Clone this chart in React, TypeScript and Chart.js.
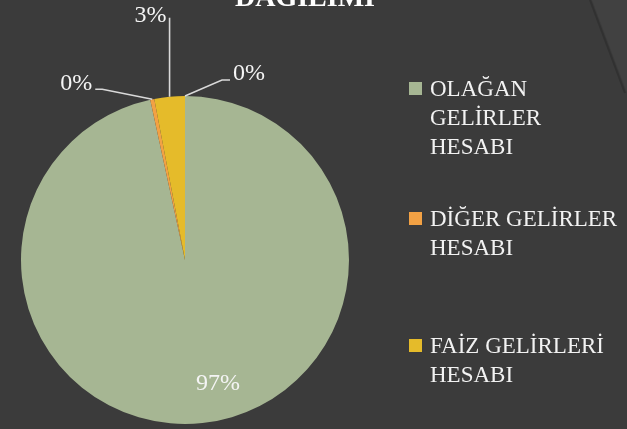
import { useEffect, useRef } from "react";
import { Chart, registerables } from "chart.js";

Chart.register(...registerables);

const categories = ["OLAĞAN GELİRLER HESABI", "DİĞER GELİRLER HESABI", "FAİZ GELİRLERİ HESABI", ""];
const legendLines = [["OLAĞAN", "GELİRLER", "HESABI"], ["DİĞER GELİRLER", "HESABI"], ["FAİZ GELİRLERİ", "HESABI"]];
const values = [96.6, 0.4, 3.0, 0];
const colors = ["#a6b693", "#f2a144", "#e5bb2a", "#8e8e8e"];
const titleText = "DAĞILIMI";

const FONT = "'Liberation Serif', 'Times New Roman', serif";

const bgPlugin = {
  id: "bgPlugin",
  beforeDraw(chart: any) {
    const { ctx, width } = chart;
    ctx.save();
    ctx.fillStyle = "#3b3b3b";
    ctx.fillRect(0, 0, width, chart.height);
    ctx.beginPath();
    ctx.moveTo(592, 0);
    ctx.lineTo(width, 0);
    ctx.lineTo(width, 93);
    ctx.closePath();
    ctx.fillStyle = "#414141";
    ctx.fill();
    ctx.strokeStyle = "rgba(20,20,20,0.25)";
    ctx.lineWidth = 2;
    ctx.beginPath();
    ctx.moveTo(590, 0);
    ctx.lineTo(width - 2, 93);
    ctx.stroke();
    ctx.fillStyle = "#ffffff";
    ctx.font = `bold 28px ${FONT}`;
    ctx.textAlign = "center";
    ctx.textBaseline = "alphabetic";
    ctx.fillText(titleText, 305, 6);
    ctx.restore();
  },
};

const labelCfg: any[] = [
  { inside: true, r: 0.74, dx: 20, dy: 9 },
  { line: [[0, 0], [-50, -10], [-57, -10]], text: [-60, -9], align: "right" },
  { line: [[0, 0], [0, -79]], text: [-3, -75], align: "right" },
  { line: [[0, 0], [37, -16], [45, -16]], text: [48, -16], align: "left" },
];

const labelPlugin = {
  id: "labelPlugin",
  afterDatasetsDraw(chart: any) {
    const { ctx } = chart;
    const meta = chart.getDatasetMeta(0);
    const data = chart.data.datasets[0].data as number[];
    const total = data.reduce((a, b) => a + b, 0);
    ctx.save();
    meta.data.forEach((arc: any, i: number) => {
      const p = arc.getProps(["x", "y", "startAngle", "endAngle", "outerRadius"], true);
      const mid = (p.startAngle + p.endAngle) / 2;
      const cfg = labelCfg[i];
      const txt = Math.round((data[i] / total) * 100) + "%";
      ctx.fillStyle = "#f4f4f4";
      ctx.font = `24px ${FONT}`;
      ctx.textBaseline = "alphabetic";
      if (cfg.inside) {
        const ax = p.x + Math.cos(mid) * p.outerRadius * cfg.r;
        const ay = p.y + Math.sin(mid) * p.outerRadius * cfg.r;
        ctx.textAlign = "center";
        ctx.fillText(txt, ax + cfg.dx, ay + cfg.dy);
        return;
      }
      const ax = p.x + Math.cos(mid) * p.outerRadius;
      const ay = p.y + Math.sin(mid) * p.outerRadius;
      ctx.strokeStyle = "#d9d9d9";
      ctx.lineWidth = 1.6;
      ctx.beginPath();
      cfg.line.forEach((pt: number[], k: number) => {
        if (k === 0) ctx.moveTo(ax + pt[0], ay + pt[1]);
        else ctx.lineTo(ax + pt[0], ay + pt[1]);
      });
      ctx.stroke();
      ctx.textAlign = cfg.align;
      ctx.fillText(txt, ax + cfg.text[0], ay + cfg.text[1]);
    });
    ctx.restore();
  },
};

const legendTops = [96, 226, 353];

const legendPlugin = {
  id: "legendPlugin",
  afterDraw(chart: any) {
    const { ctx } = chart;
    ctx.save();
    ctx.font = `23px ${FONT}`;
    ctx.textAlign = "left";
    ctx.textBaseline = "alphabetic";
    legendLines.forEach((lines, i) => {
      const base = legendTops[i];
      ctx.fillStyle = colors[i];
      ctx.fillRect(409, base - 14, 13, 13);
      ctx.fillStyle = "#f2f2f2";
      lines.forEach((ln, k) => {
        ctx.fillText(ln, 430, base + k * 29);
      });
    });
    ctx.restore();
  },
};

export default function App() {
  const ref = useRef<HTMLCanvasElement | null>(null);
  useEffect(() => {
    document.body.style.margin = "0";
    document.body.style.background = "#3b3b3b";
    const chart = new Chart(ref.current!, {
      type: "pie",
      data: {
        labels: categories,
        datasets: [
          {
            data: values,
            backgroundColor: colors,
            borderWidth: 0,
          },
        ],
      },
      options: {
        responsive: false,
        animation: false,
        layout: { padding: { left: 21, top: 96, right: 278, bottom: 5 } },
        plugins: {
          legend: { display: false },
          tooltip: { enabled: false },
          title: { display: false },
        },
      },
      plugins: [bgPlugin, labelPlugin, legendPlugin],
    });
    return () => chart.destroy();
  }, []);
  return (
    <div style={{ width: 627, height: 429 }}>
      <canvas ref={ref} width={627} height={429} />
    </div>
  );
}
